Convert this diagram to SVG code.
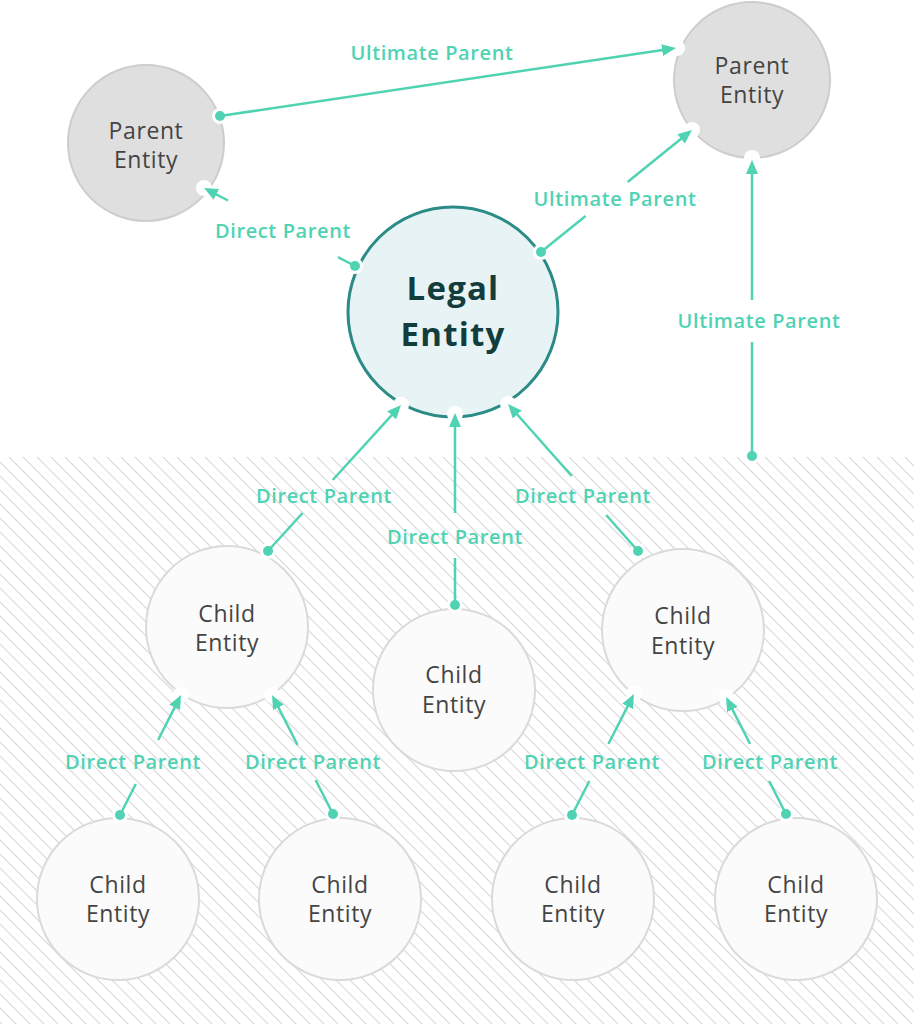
<svg xmlns="http://www.w3.org/2000/svg" width="914" height="1024" viewBox="0 0 914 1024">
<style>
.lbl{font-family:"Open Sans","Liberation Sans",sans-serif;font-weight:600;font-size:20px;letter-spacing:0.6px;fill:#4fd3b3;text-anchor:middle}
.nt{font-family:"Open Sans","Liberation Sans",sans-serif;font-size:23px;letter-spacing:0.6px;fill:#444;text-anchor:middle}
.lt{font-family:"Open Sans","Liberation Sans",sans-serif;font-weight:700;font-size:33px;letter-spacing:1.2px;fill:#123d3c;text-anchor:middle}
.par{fill:#dfdfdf;stroke:#cdcdcd;stroke-width:2}
.chi{fill:#fbfbfb;stroke:#dadada;stroke-width:2}
.ln{stroke:#4fd3b3;stroke-width:2.5;fill:none}
.arr{stroke:#4fd3b3;stroke-width:2.5;fill:none;marker-end:url(#ah)}
.dot{fill:#4fd3b3}
.halo{fill:#fff}
</style>
<defs>
<pattern id="hatch" patternUnits="userSpaceOnUse" width="14" height="14">
<path d="M0,0 L14,14 M-1,13 L1,15 M13,-1 L15,1" stroke="#d6d6d6" stroke-width="1.1"/>
</pattern>
<marker id="ah" markerUnits="userSpaceOnUse" markerWidth="14" markerHeight="12" refX="4" refY="6" orient="auto">
<path d="M0,0 L14,6 L0,12 Z" fill="#4fd3b3"/>
</marker>
</defs>
<rect x="0" y="0" width="914" height="1024" fill="#fff"/>
<rect x="0" y="457" width="914" height="567" fill="url(#hatch)"/>

<g id="parent-left"><circle class="par" cx="146" cy="143" r="78"/><text class="nt" x="146" y="139">Parent</text><text class="nt" x="146" y="168">Entity</text></g>
<g id="parent-right"><circle class="par" cx="752" cy="80" r="78"/><text class="nt" x="752" y="74">Parent</text><text class="nt" x="752" y="103">Entity</text></g>
<g id="legal-entity"><circle cx="453" cy="312" r="105" fill="#e7f3f4" stroke="#2b8b87" stroke-width="3"/><text class="lt" x="453" y="300">Legal</text><text class="lt" x="453" y="346">Entity</text></g>
<g id="child-1"><circle class="chi" cx="227" cy="627" r="81"/><text class="nt" x="227" y="622">Child</text><text class="nt" x="227" y="651">Entity</text></g>
<g id="child-2"><circle class="chi" cx="454" cy="690" r="81"/><text class="nt" x="454" y="683">Child</text><text class="nt" x="454" y="713">Entity</text></g>
<g id="child-3"><circle class="chi" cx="683" cy="630" r="81"/><text class="nt" x="683" y="624">Child</text><text class="nt" x="683" y="654">Entity</text></g>
<g id="child-4"><circle class="chi" cx="118" cy="899" r="81"/><text class="nt" x="118" y="893">Child</text><text class="nt" x="118" y="922">Entity</text></g>
<g id="child-5"><circle class="chi" cx="340" cy="899" r="81"/><text class="nt" x="340" y="893">Child</text><text class="nt" x="340" y="922">Entity</text></g>
<g id="child-6"><circle class="chi" cx="573" cy="899" r="81"/><text class="nt" x="573" y="893">Child</text><text class="nt" x="573" y="922">Entity</text></g>
<g id="child-7"><circle class="chi" cx="796" cy="899" r="81"/><text class="nt" x="796" y="893">Child</text><text class="nt" x="796" y="922">Entity</text></g>

<g id="connectors">
<g id="halos">
<circle class="halo" cx="220" cy="116" r="8"/><circle class="halo" cx="677" cy="48" r="8"/>
<circle class="halo" cx="355" cy="266" r="8"/><circle class="halo" cx="204" cy="188" r="8"/>
<circle class="halo" cx="541" cy="252" r="8"/><circle class="halo" cx="692" cy="130" r="8"/>
<circle class="halo" cx="752" cy="456" r="8"/><circle class="halo" cx="752" cy="158" r="8"/>
<circle class="halo" cx="268" cy="551" r="8"/><circle class="halo" cx="401" cy="405" r="8"/>
<circle class="halo" cx="455" cy="605" r="8"/><circle class="halo" cx="455" cy="414" r="8"/>
<circle class="halo" cx="638" cy="551" r="8"/><circle class="halo" cx="508" cy="404" r="8"/>
<circle class="halo" cx="120" cy="815" r="8"/><circle class="halo" cx="181" cy="695" r="8"/>
<circle class="halo" cx="333" cy="814" r="8"/><circle class="halo" cx="272" cy="695" r="8"/>
<circle class="halo" cx="572" cy="815" r="8"/><circle class="halo" cx="634" cy="694" r="8"/>
<circle class="halo" cx="786" cy="814" r="8"/><circle class="halo" cx="726" cy="697" r="8"/>
</g>
<path class="arr" d="M220,116 L666.1,49.5"/><circle class="dot" cx="220" cy="116" r="5"/>
<path class="ln" d="M355,266 L338,257.2"/><path class="arr" d="M228,200.5 L212.9,192.6"/><circle class="dot" cx="355" cy="266" r="5"/>
<path class="ln" d="M541,252 L585.6,216"/><path class="arr" d="M627.6,182 L684.2,136.3"/><circle class="dot" cx="541" cy="252" r="5"/>
<path class="ln" d="M752,456 L752,342"/><path class="arr" d="M752,300 L752,170"/><circle class="dot" cx="752" cy="456" r="5"/>
<path class="ln" d="M268,551 L302.6,513"/><path class="arr" d="M332.7,480 L394.3,412.4"/><circle class="dot" cx="268" cy="551" r="5"/>
<path class="ln" d="M455,605 L455,558"/><path class="arr" d="M455,513 L455,423"/><circle class="dot" cx="455" cy="605" r="5"/>
<path class="ln" d="M638,551 L606.2,515"/><path class="arr" d="M571.7,476 L514.6,411.5"/><circle class="dot" cx="638" cy="551" r="5"/>
<path class="ln" d="M120,815 L135.8,784"/><path class="arr" d="M158.1,740 L176.5,703.9"/><circle class="dot" cx="120" cy="815" r="5"/>
<path class="ln" d="M333,814 L315.6,780"/><path class="arr" d="M297.6,745 L276.6,703.9"/><circle class="dot" cx="333" cy="814" r="5"/>
<path class="ln" d="M572,815 L589.4,781"/><path class="arr" d="M608.4,744 L629.4,702.9"/><circle class="dot" cx="572" cy="815" r="5"/>
<path class="ln" d="M786,814 L769.1,781"/><path class="arr" d="M750.1,744 L730.6,705.9"/><circle class="dot" cx="786" cy="814" r="5"/>
<g id="labels">
<text class="lbl" x="432" y="60">Ultimate Parent</text>
<text class="lbl" x="283" y="238">Direct Parent</text>
<text class="lbl" x="615" y="206">Ultimate Parent</text>
<text class="lbl" x="759" y="328">Ultimate Parent</text>
<text class="lbl" x="324" y="503">Direct Parent</text>
<text class="lbl" x="455" y="544">Direct Parent</text>
<text class="lbl" x="583" y="503">Direct Parent</text>
<text class="lbl" x="133" y="769">Direct Parent</text>
<text class="lbl" x="313" y="769">Direct Parent</text>
<text class="lbl" x="592" y="769">Direct Parent</text>
<text class="lbl" x="770" y="769">Direct Parent</text>
</g>
</g>
</svg>
